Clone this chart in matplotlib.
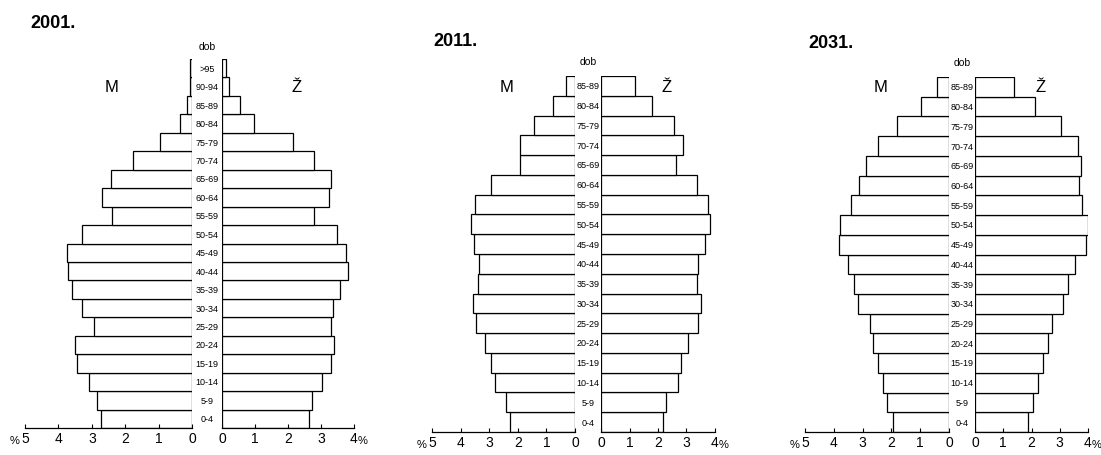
import matplotlib
matplotlib.use('Agg')
import matplotlib.pyplot as plt
from matplotlib.transforms import blended_transform_factory

plt.rcParams['font.family'] = ['Liberation Sans', 'DejaVu Sans']

# age groups, bottom to top
ages_2001 = ['0-4', '5-9', '10-14', '15-19', '20-24', '25-29', '30-34', '35-39', '40-44',
             '45-49', '50-54', '55-59', '60-64', '65-69', '70-74', '75-79', '80-84',
             '85-89', '90-94', '>95']
ages_later = ages_2001[:18]

# shares in %, men (M) and women (Ž)
m_2001 = [2.73, 2.84, 3.08, 3.43, 3.51, 2.93, 3.28, 3.58, 3.71, 3.75,
          3.28, 2.41, 2.68, 2.43, 1.78, 0.95, 0.36, 0.14, 0.05, 0.05]
z_2001 = [2.63, 2.73, 3.02, 3.30, 3.40, 3.30, 3.37, 3.59, 3.81, 3.76,
          3.47, 2.79, 3.25, 3.29, 2.79, 2.14, 0.96, 0.56, 0.21, 0.11]

m_2011 = [2.29, 2.41, 2.79, 2.93, 3.13, 3.45, 3.55, 3.40, 3.35, 3.52,
          3.63, 3.51, 2.93, 1.92, 1.92, 1.45, 0.76, 0.33]
z_2011 = [2.19, 2.29, 2.69, 2.81, 3.07, 3.42, 3.50, 3.38, 3.42, 3.65,
          3.83, 3.77, 3.36, 2.62, 2.89, 2.57, 1.78, 1.20]

m_2031 = [1.96, 2.14, 2.28, 2.48, 2.63, 2.74, 3.17, 3.29, 3.52, 3.81,
          3.78, 3.40, 3.11, 2.89, 2.48, 1.82, 0.97, 0.43]
z_2031 = [1.86, 2.06, 2.24, 2.41, 2.59, 2.71, 3.12, 3.29, 3.53, 3.92,
          4.00, 3.79, 3.68, 3.76, 3.65, 3.06, 2.12, 1.39]

W, H = 1101, 456
fig = plt.figure(figsize=(W / 100, H / 100), dpi=100)


def box(x0, x1, y_top, y_bot):
    return [x0 / W, 1 - y_bot / H, (x1 - x0) / W, (y_bot - y_top) / H]


def style_axis(ax, lim, ticks):
    for s in ['top', 'left', 'right']:
        ax.spines[s].set_visible(False)
    ax.spines['bottom'].set_linewidth(0.9)
    ax.set_xlim(*lim)
    ax.set_xticks(ticks)
    ax.set_yticks([])
    ax.tick_params(axis='x', direction='in', length=3, width=0.8, pad=2, labelsize=10)


def pyramid(title, ages, men, women, lx, rx, y_top, y_bot, title_xy, dob_y, mz_y):
    n = len(ages)
    pos = list(range(n))
    axl = fig.add_axes(box(lx[0], lx[1], y_top, y_bot))
    axr = fig.add_axes(box(rx[0], rx[1], y_top, y_bot))
    axl.barh(pos, men, height=1.0, color='white', edgecolor='black', linewidth=0.9)
    axr.barh(pos, women, height=1.0, color='white', edgecolor='black', linewidth=0.9)
    for ax in (axl, axr):
        ax.set_ylim(-0.5, n - 0.5)
        ax.patch.set_alpha(0)
    style_axis(axl, (5, 0), [5, 4, 3, 2, 1, 0])
    style_axis(axr, (0, 4), [0, 1, 2, 3, 4])

    # age labels in the middle strip
    cx = (lx[1] + rx[0]) / 2 / W
    tr = blended_transform_factory(fig.transFigure, axl.transData)
    for i, a in enumerate(ages):
        fig.text(cx, i, a, transform=tr, ha='center', va='center', fontsize=6.5)

    # % signs next to the outer ticks
    fig.text((lx[0] - 10) / W, 1 - (y_bot + 12) / H, '%', ha='center', va='center', fontsize=8)
    fig.text((rx[1] + 9) / W, 1 - (y_bot + 12) / H, '%', ha='center', va='center', fontsize=8)

    fig.text(title_xy[0] / W, 1 - title_xy[1] / H, title, ha='left', va='center',
             fontsize=13, fontweight='bold')
    fig.text(cx, 1 - dob_y / H, 'dob', ha='center', va='center', fontsize=7.5)
    fig.text((lx[0] + lx[1]) / 2 / W + 0.003, 1 - mz_y / H, 'M', ha='center', va='center',
             fontsize=12)
    fig.text((rx[0] + rx[1]) / 2 / W + 0.008, 1 - mz_y / H, 'Ž', ha='center', va='center',
             fontsize=12)


pyramid('2001.', ages_2001, m_2001, z_2001, (25, 192), (222, 354), 60, 429,
        (30, 23), 47, 87)
pyramid('2011.', ages_later, m_2011, z_2011, (432, 575), (601, 715), 77, 433,
        (433, 41), 62, 88)
pyramid('2031.', ages_later, m_2031, z_2031, (805, 949), (975, 1088), 78, 433,
        (808, 43), 63, 88)

fig.savefig('out.png', dpi=100, facecolor='white')
